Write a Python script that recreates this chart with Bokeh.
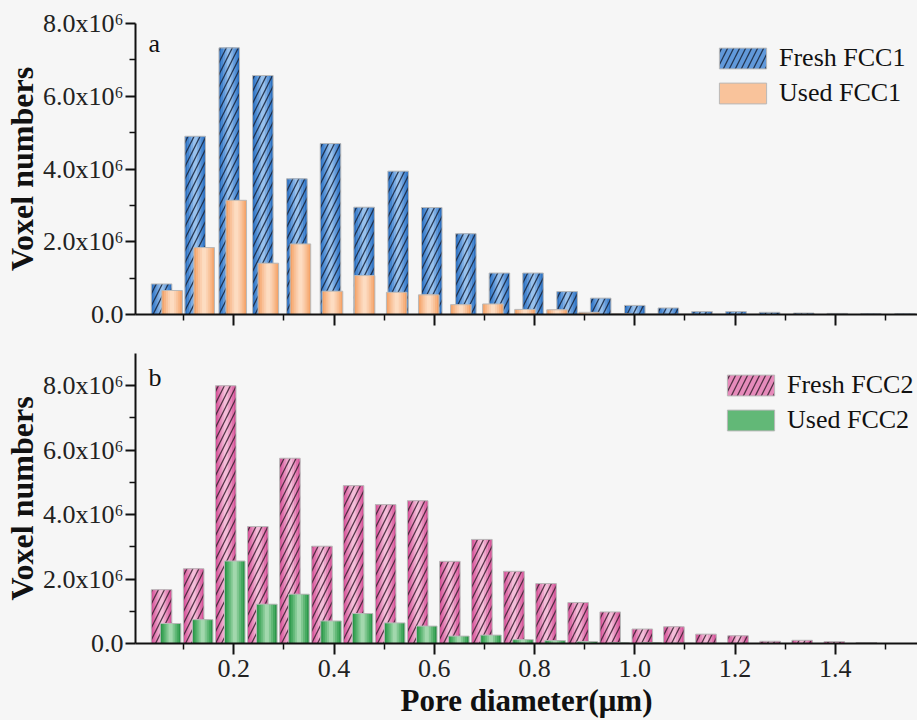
from bokeh.plotting import figure
from bokeh.layouts import column
from bokeh.models import (FixedTicker, Range1d, Legend, LegendItem, Label,
                          ColumnDataSource)
from bokeh.embed import file_html
from bokeh.resources import INLINE

# ---------------- data (voxel numbers in units of 1e6) ----------------
fresh1_d = [0.056, 0.123, 0.191, 0.258, 0.326, 0.393, 0.460, 0.528, 0.595, 0.663,
            0.730, 0.797, 0.865, 0.932, 1.000, 1.067, 1.134, 1.202, 1.269, 1.337,
            1.404, 1.471, 1.539]
fresh1_v = [0.84, 4.90, 7.33, 6.57, 3.73, 4.70, 2.95, 3.94, 2.94, 2.22,
            1.14, 1.14, 0.63, 0.45, 0.25, 0.18, 0.08, 0.08, 0.06, 0.04,
            0.03, 0.02, 0.02]
used1_d = [0.077, 0.141, 0.205, 0.269, 0.333, 0.397, 0.461, 0.525, 0.589, 0.653,
           0.717, 0.781, 0.845, 0.909, 0.973, 1.037, 1.101, 1.165, 1.229, 1.293,
           1.357, 1.421, 1.485]
used1_v = [0.66, 1.84, 3.14, 1.41, 1.94, 0.64, 1.07, 0.61, 0.54, 0.27,
           0.29, 0.14, 0.13, 0.06, 0.02, 0.01, 0.01, 0.005, 0.005, 0.0,
           0.0, 0.0, 0.0]
fresh2_d = [0.056, 0.120, 0.184, 0.248, 0.312, 0.376, 0.439, 0.503, 0.567, 0.631,
            0.695, 0.759, 0.823, 0.887, 0.951, 1.015, 1.078, 1.142, 1.206, 1.270,
            1.334, 1.398, 1.462]
fresh2_v = [1.67, 2.32, 8.00, 3.63, 5.75, 3.02, 4.90, 4.31, 4.43, 2.55,
            3.23, 2.24, 1.86, 1.27, 0.98, 0.45, 0.52, 0.29, 0.24, 0.07,
            0.10, 0.06, 0.03]
used2_d = [0.074, 0.138, 0.202, 0.266, 0.330, 0.394, 0.457, 0.521, 0.585, 0.649,
           0.713, 0.777, 0.841, 0.905, 0.969, 1.033, 1.097, 1.161, 1.225, 1.289,
           1.353, 1.416, 1.480]
used2_v = [0.62, 0.74, 2.56, 1.22, 1.53, 0.70, 0.93, 0.64, 0.54, 0.23,
           0.26, 0.12, 0.09, 0.06, 0.02, 0.02, 0.01, 0.005, 0.0, 0.0,
           0.0, 0.0, 0.0]

y_major = [0.0, 2e6, 4e6, 6e6, 8e6]
y_minor = [1e6, 3e6, 5e6, 7e6]
y_labels = ["0.0", "2.0x10\u2076", "4.0x10\u2076", "6.0x10\u2076", "8.0x10\u2076"]
x_major = [0.2, 0.4, 0.6, 0.8, 1.0, 1.2, 1.4]
x_minor = [0.1, 0.3, 0.5, 0.7, 0.9, 1.1, 1.3, 1.5]
x_labels = ["0.2", "0.4", "0.6", "0.8", "1.0", "1.2", "1.4"]

BG = "#f6f6f6"
FONT = "Liberation Serif"
BAR_W = 0.041


def make_fig(height, top, bottom, ymax):
    p = figure(width=917, height=height, output_backend="svg", toolbar_location=None,
               x_range=Range1d(0.004, 1.564), y_range=Range1d(0, ymax),
               min_border_left=135, min_border_right=0,
               min_border_top=top, min_border_bottom=bottom,
               background_fill_color=BG, border_fill_color=BG,
               outline_line_color=None)
    p.grid.visible = False
    ya = p.yaxis[0]
    ya.ticker = FixedTicker(ticks=y_major, minor_ticks=y_minor)
    ya.major_label_overrides = dict(zip(y_major, y_labels))
    ya.axis_label = "Voxel numbers"
    ya.axis_label_text_font = FONT
    ya.axis_label_text_font_style = "bold"
    ya.axis_label_text_font_size = "32px"
    ya.axis_label_text_color = "#111111"
    ya.axis_label_standoff = 0
    ya.major_label_text_font = FONT
    ya.major_label_text_font_size = "26px"
    ya.major_label_text_color = "#222222"
    ya.major_label_standoff = 2
    xa = p.xaxis[0]
    xa.ticker = FixedTicker(ticks=x_major, minor_ticks=x_minor)
    for ax in (xa, ya):
        ax.axis_line_width = 2
        ax.axis_line_color = "#111111"
        ax.major_tick_line_width = 2
        ax.major_tick_line_color = "#111111"
        ax.minor_tick_line_width = 1.5
        ax.minor_tick_line_color = "#111111"
        ax.major_tick_in = 0
        ax.minor_tick_in = 0
    ya.major_tick_out = 10
    ya.minor_tick_out = 6
    xa.major_tick_out = 11
    xa.minor_tick_out = 6
    return p


def bars(p, xs, vs, shades, hatch_color=None):
    src = ColumnDataSource(dict(x=xs, top=[v * 1e6 for v in vs]))
    fracs = [1.0, 0.8, 0.6, 0.4, 0.2]
    rs = []
    for f, c in zip(fracs, shades):
        rs.append(p.vbar(x="x", top="top", width=BAR_W * f, source=src,
                         fill_color=c, line_color=None))
    kw = {}
    if hatch_color:
        kw = dict(hatch_pattern="/", hatch_color=hatch_color, hatch_scale=12,
                  hatch_weight=1.3, hatch_alpha=0.85)
    r_top = p.vbar(x="x", top="top", width=BAR_W, source=src, fill_color=None,
                   line_color="#b9b9b9", line_width=1, **kw)
    return [rs[2], r_top]


def add_legend(p, items, loc):
    leg = Legend(items=[LegendItem(label=l, renderers=r) for l, r in items],
                 location=loc, padding=0, margin=0, spacing=5,
                 glyph_width=59, glyph_height=26, label_standoff=7,
                 label_text_font=FONT, label_text_font_size="26px",
                 label_text_color="#111111", label_height=26,
                 background_fill_alpha=0, border_line_color=None)
    p.add_layout(leg)


BLUE = ["#2f72c2", "#4787d0", "#6199da", "#7dade3", "#98c1ec"]
ORANGE = ["#f5a46a", "#f7b483", "#f9c39b", "#fbd0b0", "#fddcc1"]
PINK = ["#d6559a", "#df70ab", "#e68bbb", "#eda5ca", "#f3bdd8"]
GREEN = ["#2c974a", "#45a95f", "#62b877", "#82c892", "#a2d8ad"]

# ---------------- top panel ----------------
p1 = make_fig(334, 23, 20, 8e6)
p1.xaxis[0].major_label_text_font_size = "10px"
p1.xaxis[0].major_label_text_color = None
p1.xaxis[0].major_label_text_alpha = 0
rf1 = bars(p1, fresh1_d, fresh1_v, BLUE, "#18233a")
ru1 = bars(p1, used1_d, used1_v, ORANGE)
add_legend(p1, [("Fresh FCC1", rf1), ("Used FCC1", ru1)], (578, 206))
p1.add_layout(Label(x=0.03, y=7.45e6, text="a", text_font=FONT, text_font_size="26px",
                    text_color="#111111", text_baseline="alphabetic"))

# ---------------- bottom panel ----------------
p2 = make_fig(386, 19, 77, 9e6)
xa2 = p2.xaxis[0]
xa2.major_label_overrides = dict(zip(x_major, x_labels))
xa2.major_label_text_font = FONT
xa2.major_label_text_font_size = "26px"
xa2.major_label_text_color = "#222222"
xa2.major_label_standoff = 5
xa2.axis_label = "Pore diameter(\u03bcm)"
xa2.axis_label_text_font = FONT
xa2.axis_label_text_font_style = "bold"
xa2.axis_label_text_font_size = "31px"
xa2.axis_label_text_color = "#111111"
xa2.axis_label_standoff = 3
rf2 = bars(p2, fresh2_d, fresh2_v, PINK, "#3a2030")
ru2 = bars(p2, used2_d, used2_v, GREEN)
add_legend(p2, [("Fresh FCC2", rf2), ("Used FCC2", ru2)], (586, 208))
p2.add_layout(Label(x=0.03, y=8.24e6, text="b", text_font=FONT, text_font_size="26px",
                    text_color="#111111", text_baseline="alphabetic"))

layout = column(p1, p2, spacing=0, background=BG)
open("out.html", "w").write(file_html(layout, INLINE))
